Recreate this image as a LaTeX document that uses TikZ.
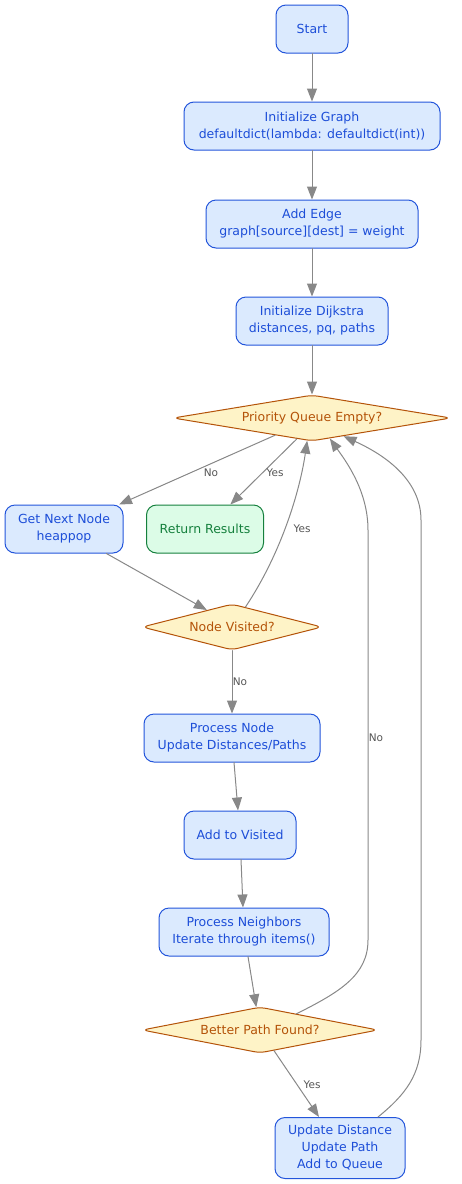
\documentclass[tikz,border=0pt]{standalone}
\usepackage{fontspec}
\setmainfont{DejaVu Sans}
\usepackage{tikz}
\usetikzlibrary{arrows.meta,shapes.geometric}
\definecolor{boxfill}{HTML}{DBEAFE}
\definecolor{boxline}{HTML}{2355DB}
\definecolor{boxtext}{HTML}{1D4ED8}
\definecolor{decfill}{HTML}{FEF3C7}
\definecolor{decline}{HTML}{B45309}
\definecolor{dectext}{HTML}{B45309}
\definecolor{endfill}{HTML}{DCFCE7}
\definecolor{endline}{HTML}{15803D}
\definecolor{edgegray}{HTML}{888888}
\definecolor{lblgray}{HTML}{555555}

\begin{document}
\begin{tikzpicture}[line cap=round,line join=round,>={Triangle[length=13pt,width=10pt]},x=1pt,y=-1pt,
  procbox/.style={rectangle,rounded corners=10pt,draw=boxline,fill=boxfill,text=boxtext,line width=1pt,
    align=center,minimum height=48pt,inner sep=0pt,font=\fontsize{12.5}{17}\selectfont},
  endbox/.style={procbox,draw=endline,fill=endfill,text=endline},
  decbox/.style={diamond,aspect=6,rounded corners=6pt,draw=decline,fill=decfill,text=dectext,line width=1pt,
    minimum height=46pt,inner sep=0pt,font=\fontsize{12.5}{17}\selectfont},
  edge/.style={draw=edgegray,line width=1pt,->},
  lbl/.style={text=lblgray,inner sep=0pt,font=\fontsize{10.5}{12}\selectfont}]
\useasboundingbox (0,0) rectangle (462,1184);
% boxes
\node[procbox,minimum width=72pt] (start) at (312,29) {Start};
\node[procbox,minimum width=256pt] (initgraph) at (312,126) {Initialize Graph\\defaultdict(lambda: defaultdict(int))};
\node[procbox,minimum width=212pt] (addedge) at (312,224) {Add Edge\\graph[source][dest] = weight};
\node[procbox,minimum width=152pt] (initdijk) at (312,321) {Initialize Dijkstra\\distances, pq, paths};
\node[decbox,minimum width=278pt] (pq) at (312,418) {Priority Queue Empty?};
\node[procbox,minimum width=118pt] (getnext) at (64,529) {Get Next Node\\heappop};
\node[endbox,minimum width=117pt] (results) at (205,529) {Return Results};
\node[decbox,minimum width=180pt] (visited) at (232,627) {Node Visited?};
\node[procbox,minimum width=176pt] (procnode) at (232,738) {Process Node\\Update Distances/Paths};
\node[procbox,minimum width=112pt] (addvisited) at (240,835) {Add to Visited};
\node[procbox,minimum width=170pt] (neighbors) at (244,932) {Process Neighbors\\Iterate through items()};
\node[decbox,minimum width=236pt] (better) at (260,1030) {Better Path Found?};
\node[procbox,minimum width=130pt,minimum height=61pt] (update) at (340,1148) {Update Distance\\Update Path\\Add to Queue};
% edges
\draw[edge] (start) -- (initgraph);
\draw[edge] (initgraph) -- (addedge);
\draw[edge] (addedge) -- (initdijk);
\draw[edge] (initdijk) -- (pq);
\draw[edge] (pq.205) -- (getnext.24);
\draw[edge] (pq.234) -- (results.44);
\draw[edge] (getnext.-30) -- (visited.146);
\draw[edge] (visited.56) .. controls (282,552) and (300,490) .. (pq.258);
\draw[edge] (visited) -- (procnode);
\draw[edge] (procnode) -- (addvisited);
\draw[edge] (addvisited) -- (neighbors);
\draw[edge] (neighbors) -- (better);
\draw[edge] (better.24) .. controls (340,992) and (368,975) .. (368,940) -- (368,530) .. controls (368,490) and (345,460) .. (pq.311);
\draw[edge] (better) -- (update);
\draw[edge] ([xshift=38pt]update.north) .. controls (405,1095) and (421,1075) .. (421,1040) -- (421,520) .. controls (421,480) and (385,455) .. (pq.330);
% labels
\node[lbl] (lno1) at (211,473) {No};
\node[lbl] (lyes1) at (275,473) {Yes};
\node[lbl] (lyes2) at (302,529) {Yes};
\node[lbl] (lno2) at (240,682) {No};
\node[lbl] (lno3) at (376,738) {No};
\node[lbl] (lyes3) at (312,1085) {Yes};
\end{tikzpicture}
\end{document}
